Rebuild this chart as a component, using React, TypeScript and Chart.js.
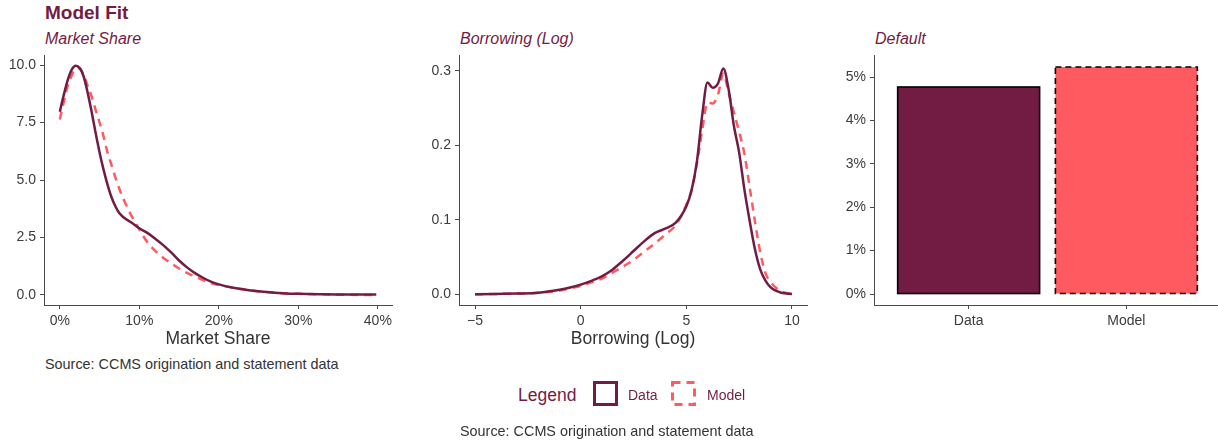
import React, { useEffect, useRef } from 'react';
import { Chart, registerables } from 'chart.js';

Chart.register(...registerables);

// ---------- data ----------
const shareX = [0, 0.5, 1, 1.5, 2, 2.5, 3, 3.5, 4, 4.5, 5, 5.5, 6, 6.5, 7, 7.5, 8, 9, 10, 11, 12, 13, 14, 15, 16, 17, 18, 19, 20, 22, 24, 26, 28, 30, 33, 36, 39.8];
const shareData = [7.97, 8.7, 9.35, 9.8, 9.97, 9.87, 9.5, 8.8, 7.97, 7.05, 6.2, 5.45, 4.8, 4.25, 3.85, 3.55, 3.38, 3.15, 2.9, 2.7, 2.45, 2.17, 1.85, 1.5, 1.2, 0.95, 0.75, 0.58, 0.46, 0.3, 0.2, 0.13, 0.08, 0.05, 0.03, 0.02, 0.02];
const shareModel = [7.63, 8.4, 9.1, 9.55, 9.85, 9.85, 9.55, 9.1, 8.63, 8.05, 7.5, 6.9, 6.2, 5.65, 5.1, 4.6, 4.18, 3.45, 2.85, 2.3, 1.92, 1.62, 1.38, 1.15, 0.96, 0.8, 0.65, 0.52, 0.44, 0.3, 0.2, 0.13, 0.08, 0.05, 0.03, 0.01, 0.0];
const shareXTicks = [0, 10, 20, 30, 40];
const shareYTicks = [0, 2.5, 5, 7.5, 10];

const borrowX = [-5, -4, -3, -2, -1, -0.5, 0, 0.5, 1, 1.5, 2, 2.5, 3, 3.5, 4, 4.5, 5, 5.25, 5.5, 5.75, 6, 6.25, 6.5, 6.75, 7, 7.25, 7.5, 7.75, 8, 8.25, 8.5, 8.75, 9, 9.5, 10];
const borrowData = [0.0, 0.0005, 0.001, 0.002, 0.006, 0.009, 0.013, 0.018, 0.024, 0.033, 0.045, 0.058, 0.071, 0.082, 0.088, 0.096, 0.118, 0.14, 0.178, 0.24, 0.284, 0.277, 0.283, 0.303, 0.275, 0.226, 0.19, 0.14, 0.098, 0.06, 0.033, 0.018, 0.009, 0.002, 0.0005];
const borrowModel = [0.0, 0.0005, 0.001, 0.002, 0.005, 0.008, 0.011, 0.016, 0.021, 0.029, 0.037, 0.046, 0.057, 0.068, 0.08, 0.093, 0.12, 0.14, 0.175, 0.22, 0.257, 0.256, 0.268, 0.296, 0.27, 0.244, 0.218, 0.188, 0.143, 0.097, 0.056, 0.028, 0.016, 0.004, 0.0005];
const borrowXTicks = [-5, 0, 5, 10];
const borrowYTicks = [0, 0.1, 0.2, 0.3];

const defaultCategories = ['Data', 'Model'];
const defaultValues = [4.77, 5.23];
const defaultYTicks = [0, 1, 2, 3, 4, 5];

// ---------- styles ----------
const MAROON = '#721C44';
const CORAL = '#FF5A5F';
const AXIS = '#4a4a4a';
const TICK_TEXT = '#3c3c3c';
const TITLE_TEXT = '#333333';
const FONT = '"Liberation Sans", Arial, Helvetica, sans-serif';

Chart.defaults.font.family = FONT;

function axis(o: {
  min: number; max: number; ticks: number[]; fmt: (v: number) => string;
  size: number; horizontal: boolean; title?: string;
}): any {
  return {
    type: 'linear',
    min: o.min,
    max: o.max,
    offset: false,
    grid: {
      display: true, drawOnChartArea: false, drawTicks: true, tickLength: 4,
      tickWidth: 1, tickColor: AXIS, color: AXIS, offset: false,
    },
    border: { display: true, color: AXIS, width: 1 },
    ticks: {
      color: TICK_TEXT, font: { size: 14, family: FONT }, padding: 4,
      autoSkip: false, maxRotation: 0, minRotation: 0,
      callback: (v: any) => o.fmt(Number(v)),
    },
    afterBuildTicks: (s: any) => { s.ticks = o.ticks.map((v) => ({ value: v })); },
    afterFit: (s: any) => {
      if (o.horizontal) s.height = o.size; else s.width = o.size;
      s.paddingTop = 0; s.paddingBottom = 0; s.paddingLeft = 0; s.paddingRight = 0;
    },
    title: o.title
      ? { display: true, text: o.title, color: TITLE_TEXT, font: { size: 17.5, family: FONT }, padding: { top: 0, bottom: 0 } }
      : { display: false },
  };
}

const lineDataset = (label: string, xs: number[], ys: number[], color: string, dash: number[]) => ({
  type: 'line',
  label,
  data: xs.map((x, i) => ({ x, y: ys[i] })),
  borderColor: color,
  backgroundColor: color,
  borderWidth: 2.5,
  borderDash: dash,
  pointRadius: 0,
  fill: false,
  cubicInterpolationMode: 'monotone',
});

const barDashes = [[], [6, 4]];
const barOutline = {
  id: 'barOutline',
  afterDatasetsDraw(chart: any) {
    const meta = chart.getDatasetMeta(0);
    const ctx = chart.ctx;
    meta.data.forEach((bar: any, i: number) => {
      const { x, y, base, width } = bar.getProps(['x', 'y', 'base', 'width'], true);
      ctx.save();
      ctx.strokeStyle = '#000';
      ctx.lineWidth = 1.6;
      ctx.setLineDash(barDashes[i] || []);
      ctx.strokeRect(x - width / 2, y, width, base - y);
      ctx.restore();
    });
  },
};

function ChartCanvas({ left, top, width, height, config }: any) {
  const ref = useRef<HTMLCanvasElement>(null);
  useEffect(() => {
    if (!ref.current) return;
    const chart = new Chart(ref.current, config);
    return () => chart.destroy();
  }, []);
  return (
    <canvas
      ref={ref}
      width={width}
      height={height}
      style={{ position: 'absolute', left, top, width, height }}
    />
  );
}

const commonOptions = {
  responsive: false,
  animation: false,
  devicePixelRatio: 1,
  plugins: { legend: { display: false }, tooltip: { enabled: false }, title: { display: false } },
};

const shareConfig: any = {
  type: 'line',
  data: {
    datasets: [
      lineDataset('Data', shareX, shareData, MAROON, []),
      lineDataset('Model', shareX, shareModel, CORAL, [8, 6]),
    ],
  },
  options: {
    ...commonOptions,
    layout: { padding: { left: 0, top: 5, right: 8, bottom: 0 } },
    scales: {
      x: axis({ min: -1.99, max: 41.78, ticks: shareXTicks, fmt: (v) => `${v}%`, size: 45, horizontal: true, title: 'Market Share' }),
      y: axis({ min: -0.435, max: 10.435, ticks: shareYTicks, fmt: (v) => v.toFixed(1), size: 44, horizontal: false }),
    },
  },
};

const borrowConfig: any = {
  type: 'line',
  data: {
    datasets: [
      lineDataset('Data', borrowX, borrowData, MAROON, []),
      lineDataset('Model', borrowX, borrowModel, CORAL, [8, 6]),
    ],
  },
  options: {
    ...commonOptions,
    layout: { padding: { left: 0, top: 5, right: 13, bottom: 0 } },
    scales: {
      x: axis({ min: -5.758, max: 10.71, ticks: borrowXTicks, fmt: (v) => (v < 0 ? `\u2212${Math.abs(v)}` : `${v}`), size: 45, horizontal: true, title: 'Borrowing (Log)' }),
      y: axis({ min: -0.0144, max: 0.321, ticks: borrowYTicks, fmt: (v) => v.toFixed(1), size: 39, horizontal: false }),
    },
  },
};

const defaultConfig: any = {
  type: 'bar',
  data: {
    datasets: [
      {
        label: 'Default',
        data: defaultValues.map((v, i) => ({ x: i + 1, y: v })),
        backgroundColor: [MAROON, CORAL],
        borderWidth: 0,
        categoryPercentage: 1,
        barPercentage: 0.9,
      },
    ],
  },
  options: {
    ...commonOptions,
    layout: { padding: { left: 0, top: 5, right: 1, bottom: 0 } },
    scales: {
      x: axis({ min: 0.4, max: 2.6, ticks: [1, 2], fmt: (v) => defaultCategories[v - 1] ?? '', size: 45, horizontal: true }),
      y: axis({ min: -0.253, max: 5.507, ticks: defaultYTicks, fmt: (v) => `${v}%`, size: 44, horizontal: false }),
    },
  },
  plugins: [barOutline],
};

function Text({ left, top, size, color, children, weight, italic, lh }: any) {
  return (
    <div
      style={{
        position: 'absolute', left, top, fontSize: size, lineHeight: `${lh}px`, color,
        fontWeight: weight || 'normal', fontStyle: italic ? 'italic' : 'normal', whiteSpace: 'nowrap',
        fontFamily: FONT,
      }}
    >
      {children}
    </div>
  );
}

export default function App() {
  return (
    <div
      style={{
        position: 'fixed', left: 0, top: 0, width: 1218, height: 442, background: '#fff',
        overflow: 'hidden', fontFamily: FONT,
      }}
    >
      <Text left={45} top={3.4} size={19} lh={20} color={MAROON} weight="bold">Model Fit</Text>
      <Text left={45} top={29.5} size={16} lh={18} color={MAROON} italic>Market Share</Text>
      <Text left={460} top={29.5} size={16} lh={18} color={MAROON} italic>Borrowing (Log)</Text>
      <Text left={875} top={29.5} size={16} lh={18} color={MAROON} italic>Default</Text>

      <ChartCanvas left={0} top={50} width={400} height={300} config={shareConfig} />
      <ChartCanvas left={420} top={50} width={400} height={300} config={borrowConfig} />
      <ChartCanvas left={830} top={50} width={392} height={300} config={defaultConfig} />

      <Text left={45} top={356} size={14.4} lh={16} color={TITLE_TEXT}>Source: CCMS origination and statement data</Text>

      <Text left={518} top={385} size={17.5} lh={20} color={MAROON}>Legend</Text>
      <svg style={{ position: 'absolute', left: 0, top: 0 }} width={1218} height={442}>
        <rect x={594.5} y={382.5} width={22} height={22} fill="none" stroke={MAROON} strokeWidth={3} />
        <rect x={672.5} y={382.5} width={22} height={22} fill="none" stroke={CORAL} strokeWidth={3} strokeDasharray="8 6" />
      </svg>
      <Text left={628} top={387} size={14} lh={16} color={MAROON}>Data</Text>
      <Text left={707} top={387} size={14} lh={16} color={MAROON}>Model</Text>

      <Text left={460} top={423} size={14.4} lh={16} color={TITLE_TEXT}>Source: CCMS origination and statement data</Text>
    </div>
  );
}
